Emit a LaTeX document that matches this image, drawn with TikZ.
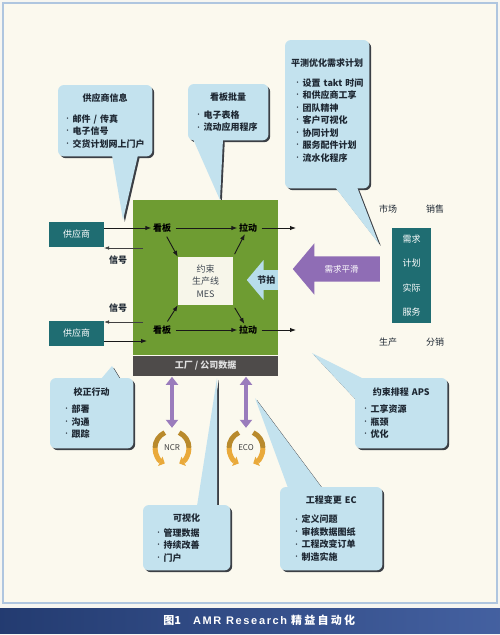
\documentclass[tikz,border=0pt]{standalone}
\usepackage{fontspec}
\setmainfont{Noto Sans CJK SC}
\newfontfamily\latcap{Liberation Sans}
\usepackage{tikz}
\usetikzlibrary{positioning}
\usetikzlibrary{calc,arrows.meta}
\usetikzlibrary{shapes.arrows}
\definecolor{amr-page}{HTML}{F6F6F1}
\definecolor{amr-paper}{HTML}{FBF9EE}
\definecolor{amr-frame}{HTML}{AFC6DF}
\definecolor{amr-bubble}{HTML}{C3E2EE}
\definecolor{amr-shadow}{HTML}{3B3F45}
\definecolor{amr-green}{HTML}{6E9C32}
\definecolor{amr-core}{HTML}{F7F6EA}
\definecolor{amr-bar}{HTML}{4E4B4A}
\definecolor{amr-teal}{HTML}{1F6D72}
\definecolor{amr-purple}{HTML}{8F6DB5}
\definecolor{amr-takt}{HTML}{B7DDEA}
\definecolor{amr-gold}{HTML}{B98A2C}
\definecolor{amr-amber}{HTML}{E9A93A}
\definecolor{amr-text}{HTML}{1E2833}
\definecolor{amr-navy}{HTML}{2F4F96}
\pgfdeclarelayer{paper}
\pgfdeclarelayer{bubbles}
\pgfsetlayers{paper,bubbles,main}
\newcommand{\bul}{\raisebox{1.8pt}{\tiny\textbullet}\nobreak\hspace{2.5pt}}
\newcommand{\btitle}[1]{\makebox[\linewidth]{#1}\par}

\begin{document}
\begin{tikzpicture}[
    x=1pt, y=-1pt, % pixel grid of the scan, y runs downwards
    font=\fontsize{9}{12.5}\selectfont,
    >=Latex
  ]
  \useasboundingbox (0,0) rectangle (500,635);

  % Styles for the whole figure
  \tikzset{
    bubble/.style={anchor=north west, inner ysep=0pt, align=left, text=amr-text, font=\fontsize{9}{12.5}\selectfont\bfseries},
    plantbox/.style={anchor=north west, fill=amr-green, minimum width=145, minimum height=155, inner sep=0pt},
    factbar/.style={fill=amr-bar, minimum width=145, minimum height=20, inner sep=0pt, text=black!12, font=\fontsize{9}{10}\selectfont\bfseries},
    core/.style={fill=amr-core, minimum width=55, minimum height=48, inner sep=0pt, align=center, text=amr-text!85},
    kanban/.style={font=\fontsize{9}{10}\selectfont\bfseries, text=black, inner sep=1.5pt},
    tealbox/.style={fill=amr-teal, text=white, inner sep=0pt, align=center},
    lbl/.style={text=amr-text, inner sep=1pt},
    flowarrow/.style={->, >={Latex[length=6pt,width=4.5pt]}, line width=0.9pt, black!90, shorten <=3pt},
    sigarrow/.style={->, >={Latex[length=5pt,width=3.5pt]}, line width=0.5pt, black!75},
    bigarrow/.style={single arrow, shape border rotate=180, anchor=tail, fill=amr-purple, text=white, minimum height=87pt, single arrow head extend=13pt, single arrow tip angle=100, inner ysep=8.5pt, inner xsep=3pt, font=\fontsize{8.5}{10}\selectfont},
    taktarrow/.style={single arrow, shape border rotate=180, anchor=tail, fill=amr-takt, text=amr-text, minimum height=31pt, single arrow head extend=10pt, single arrow tip angle=100, inner ysep=5.5pt, inner xsep=1pt, font=\fontsize{9}{10}\selectfont\bfseries},
    duo/.style={{Triangle[width=12pt,length=8pt]}-{Triangle[width=12pt,length=8pt]}, line width=4.5pt, amr-purple!90!white, shorten <=1pt},
    icon/.style={circle, minimum size=40, inner sep=0pt, text=black!75, font=\fontsize{8}{9}\selectfont},
    capbar/.style={anchor=north west, minimum width=500, minimum height=25, inner sep=0pt, left color=amr-navy!75!black, right color=amr-navy!90!white, text=white, font=\fontsize{11}{12}\selectfont\bfseries}
  }

  % Paper and frame
  \begin{pgfonlayer}{paper}
    \fill[amr-page] (0,0) rectangle (500,635);
    \draw[amr-frame, line width=1.5pt, fill=amr-paper] (3,3) rectangle (497,603);
  \end{pgfonlayer}

  % Plant floor block
  \node[plantbox] (plant) at (133,200) {};
  \node[factbar, below=0pt of plant] (facdata) {工厂 / 公司数据};
  \node[core] (mes) at (205.5,281) {约束\\生产线\\MES};

  \node[kanban] (kbtop) at (162,228) {看板};
  \node[kanban] (pulltop) at (248,228) {拉动};
  \node[kanban] (kbbot) at (162,330) {看板};
  \node[kanban] (pullbot) at (248,330) {拉动};
  \coordinate (out1) at (296,228);
  \coordinate (out2) at (296,330);

  \draw[flowarrow] (kbtop) -- (pulltop);
  \draw[flowarrow] (kbbot) -- (pullbot);
  \draw[flowarrow] (kbtop) -- (mes.north west);
  \draw[flowarrow] (kbbot) -- (mes.south west);
  \draw[flowarrow] (mes.north east) -- (pulltop);
  \draw[flowarrow] (mes.south east) -- (pullbot);
  \draw[flowarrow] (pulltop) -- (out1);
  \draw[flowarrow] (pullbot) -- (out2);

  \node[taktarrow] (takt) at (278,280) {节拍};

  % Suppliers on the left
  \node[tealbox, minimum width=55, minimum height=25] (sup1) at (76.5,234.5) {供应商};
  \node[tealbox, minimum width=55, minimum height=25] (sup2) at (76.5,333.5) {供应商};
  \coordinate (ret1) at (143,248);
  \coordinate (ret2) at (143,322);
  \coordinate (in2) at (147,341);
  \draw[flowarrow, shorten <=0pt] (sup1.east |- kbtop) -- (kbtop);
  \draw[sigarrow] (ret1) -- (ret1 -| sup1.east);
  \draw[sigarrow] (ret2) -- (ret2 -| sup2.east);
  \draw[flowarrow, shorten <=0pt] (sup2.east |- in2) -- (in2);
  \node[lbl, font=\fontsize{9}{10}\selectfont\bfseries] (sig1) at (118,260) {信号};
  \node[lbl, font=\fontsize{9}{10}\selectfont\bfseries] (sig2) at (118,308) {信号};

  % Demand side on the right
  \node[tealbox, minimum width=39, minimum height=95, font=\fontsize{9}{12}\selectfont] (plan) at (411.5,275.5) {需求\\[12.5pt]计划\\[12.5pt]实际\\[12.5pt]服务};
  \node[lbl] (market) at (388,209) {市场};
  \node[lbl] (sales) at (435,209) {销售};
  \node[lbl] (prod) at (388,342) {生产};
  \node[lbl] (distr) at (435,342) {分销};
  \node[bigarrow] (smooth) at (380,269) {需求平滑};

  % NCR / ECO loops under the plant
  \node[icon] (ncr) at (172,448) {NCR};
  \node[icon] (eco) at (246,448) {ECO};
  \foreach \c in {ncr,eco}{
    \draw[duo] (facdata.south -| \c) -- (\c.north);
    \draw[amr-gold, line width=5pt] ([shift={(245:17)}]\c.center) arc[start angle=245, end angle=180, radius=17];
    \draw[amr-amber, line width=5pt, -{Triangle[length=5pt,width=10pt]}] ([shift={(180:17)}]\c.center) arc[start angle=180, end angle=115, radius=17];
    \draw[amr-gold, line width=5pt] ([shift={(295:17)}]\c.center) arc[start angle=295, end angle=360, radius=17];
    \draw[amr-amber, line width=5pt, -{Triangle[length=5pt,width=10pt]}] ([shift={(0:17)}]\c.center) arc[start angle=0, end angle=65, radius=17];
  }

  % Call-out bubbles
  \node[bubble, inner xsep=7pt, text width=80pt, minimum height=71] (supinfo) at (58,85)
    {\btitle{供应商信息}\vspace{8.5pt}\bul 邮件 / 传真\\ \bul 电子信号\\ \bul 交货计划网上门户};
  \node[bubble, inner xsep=8pt, text width=64pt, minimum height=56] (kbatch) at (188,84)
    {\btitle{看板批量}\vspace{5.5pt}\bul 电子表格\\ \bul 流动应用程序};
  \node[bubble, inner xsep=10pt, text width=64pt, minimum height=148] (leveled) at (285,40)
    {\btitle{平测优化需求计划}\vspace{7.5pt}\bul 设置~takt~时间\\ \bul 和供应商工享\\ \bul 团队精神\\ \bul 客户可视化\\ \bul 协同计划\\ \bul 服务配件计划\\ \bul 流水化程序\par\vspace{8pt}};
  \node[bubble, inner xsep=14pt, text width=55pt, minimum height=70] (correct) at (50,378)
    {\btitle{校正行动}\vspace{4.5pt}\bul 部署\\ \bul 沟通\\ \bul 跟踪};
  \node[bubble, inner xsep=13pt, text width=61pt, minimum height=65] (visual) at (143,505)
    {\btitle{可视化}\vspace{2.5pt}\bul 管理数据\\ \bul 持续改善\\ \bul 门户};
  \node[bubble, inner xsep=8pt, text width=76pt, minimum height=70] (aps) at (355,378)
    {\btitle{约束排程 APS}\vspace{4.5pt}\bul 工享资源\\ \bul 瓶颈\\ \bul 优化};
  \node[bubble, inner xsep=14pt, text width=74pt, minimum height=83] (ec) at (280,487)
    {\btitle{工程变更 EC}\vspace{6.5pt}\bul 定义问题\\ \bul 审核数据图纸\\ \bul 工程改变订单\\ \bul 制造实施};

  % Tails of the bubbles
  \coordinate (supinfo-a) at (112,155);  \coordinate (supinfo-b) at (138,155);  \coordinate (supinfo-tip) at (123,220);
  \coordinate (kbatch-a) at (193,139);   \coordinate (kbatch-b) at (223,139);   \coordinate (kbatch-tip) at (220,200);
  \coordinate (leveled-a) at (335,187);  \coordinate (leveled-b) at (357,187);  \coordinate (leveled-tip) at (379,244);
  \coordinate (correct-a) at (101,379);  \coordinate (correct-b) at (120,379);  \coordinate (correct-tip) at (112,366);
  \coordinate (visual-a) at (197,506);   \coordinate (visual-b) at (217,506);   \coordinate (visual-tip) at (217,378);
  \coordinate (aps-a) at (364,379);      \coordinate (aps-b) at (356,400);      \coordinate (aps-tip) at (312,353);
  \coordinate (ec-a) at (288,488);       \coordinate (ec-b) at (322,488);       \coordinate (ec-tip) at (255,398);

  \begin{pgfonlayer}{bubbles}
    \foreach \b in {supinfo,kbatch,leveled,correct,visual,aps,ec}{
      \fill[amr-shadow, rounded corners=6pt] ([shift={(1.8,1.8)}]\b.north west) rectangle ([shift={(1.8,1.8)}]\b.south east);
      \fill[amr-shadow] ([shift={(1.8,1.8)}]\b-a) -- ([shift={(1.8,1.8)}]\b-tip) -- ([shift={(1.8,1.8)}]\b-b) -- cycle;
    }
    \foreach \b in {supinfo,kbatch,leveled,correct,visual,aps,ec}{
      \fill[amr-bubble, rounded corners=6pt] (\b.north west) rectangle (\b.south east);
      \fill[amr-bubble] (\b-a) -- (\b-tip) -- (\b-b) -- cycle;
    }
  \end{pgfonlayer}

  % Caption strip
  \node[capbar] (capstrip) at (0,608)
    {\hspace*{18pt}图1\hspace{12pt}{\latcap\addfontfeature{LetterSpace=15}AMR Research}\hspace{4pt}{\addfontfeature{LetterSpace=20}精益自动化}};

\end{tikzpicture}
\end{document}
